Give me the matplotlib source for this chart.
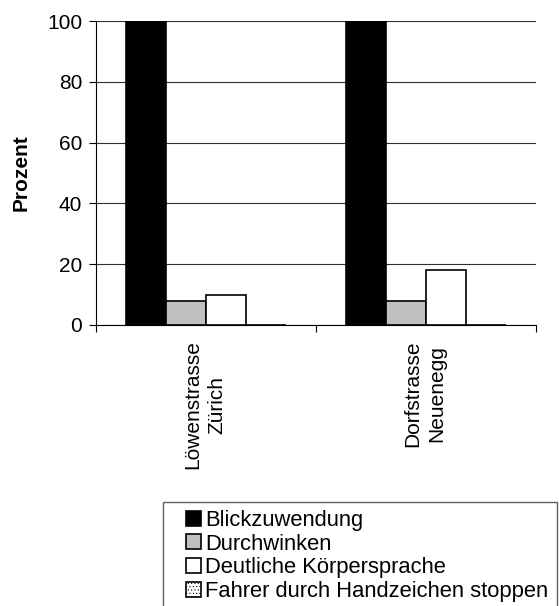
import matplotlib.pyplot as plt
import numpy as np
from matplotlib.patches import Rectangle

plt.rcParams['font.family'] = ['Liberation Sans', 'DejaVu Sans']
plt.rcParams['hatch.linewidth'] = 0.4

orte = ['Löwenstrasse\nZürich', 'Dorfstrasse\nNeuenegg']
serien = ['Blickzuwendung', 'Durchwinken', 'Deutliche Körpersprache',
          'Fahrer durch Handzeichen stoppen']
werte = [[100, 100],   # Blickzuwendung
         [8, 8],       # Durchwinken
         [10, 18],     # Deutliche Koerpersprache
         [0, 0]]       # Fahrer durch Handzeichen stoppen
farben = ['black', '#c0c0c0', 'white', 'white']
muster = [None, None, None, '.....']

fig = plt.figure(figsize=(5.59, 6.06), dpi=100)
ax = fig.add_axes([0.1717, 0.4637, 0.7872, 0.5016])

breite = 0.182
x = np.arange(len(orte))
for i in range(len(serien)):
    ax.bar(x + (i - 1.5) * breite, werte[i], breite, color=farben[i],
           edgecolor='black', linewidth=1.2, hatch=muster[i],
           label=serien[i], zorder=3)

ax.set_xlim(-0.5, 1.5)
ax.set_ylim(0, 100)
ax.set_yticks(np.arange(0, 101, 20))
ax.set_xticks([-0.5, 0.5, 1.5])
ax.set_xticklabels([])
ax.tick_params(axis='y', direction='out', length=5, labelsize=15, pad=5)
ax.tick_params(axis='x', direction='out', length=5)
ax.grid(axis='y', color='#303030', linewidth=0.8, zorder=0)
ax.spines['top'].set_visible(False)
ax.spines['right'].set_visible(False)
ax.spines['left'].set_linewidth(0.8)
ax.spines['bottom'].set_linewidth(0.8)

for xi, name in zip(x, orte):
    ax.text(xi - 0.005, -5, name, rotation=90, ha='center', va='top',
            multialignment='center', fontsize=15, linespacing=1.3)

ax.set_ylabel('Prozent', fontsize=15, fontweight='bold', labelpad=12)

# Rahmen der Legende
fig.add_artist(Rectangle((163 / 559, -0.02), 394 / 559, 1 - 502 / 606 + 0.02,
                         transform=fig.transFigure, facecolor='white',
                         edgecolor='#606060', linewidth=1))
leg = fig.legend(loc='upper left', bbox_to_anchor=(186 / 559, 1 - 510 / 606),
                 borderaxespad=0, borderpad=0, fontsize=15.8, frameon=False,
                 handlelength=0.68, handleheight=0.68, handletextpad=0.2,
                 labelspacing=0.12)

fig.savefig('out.png', dpi=100)
